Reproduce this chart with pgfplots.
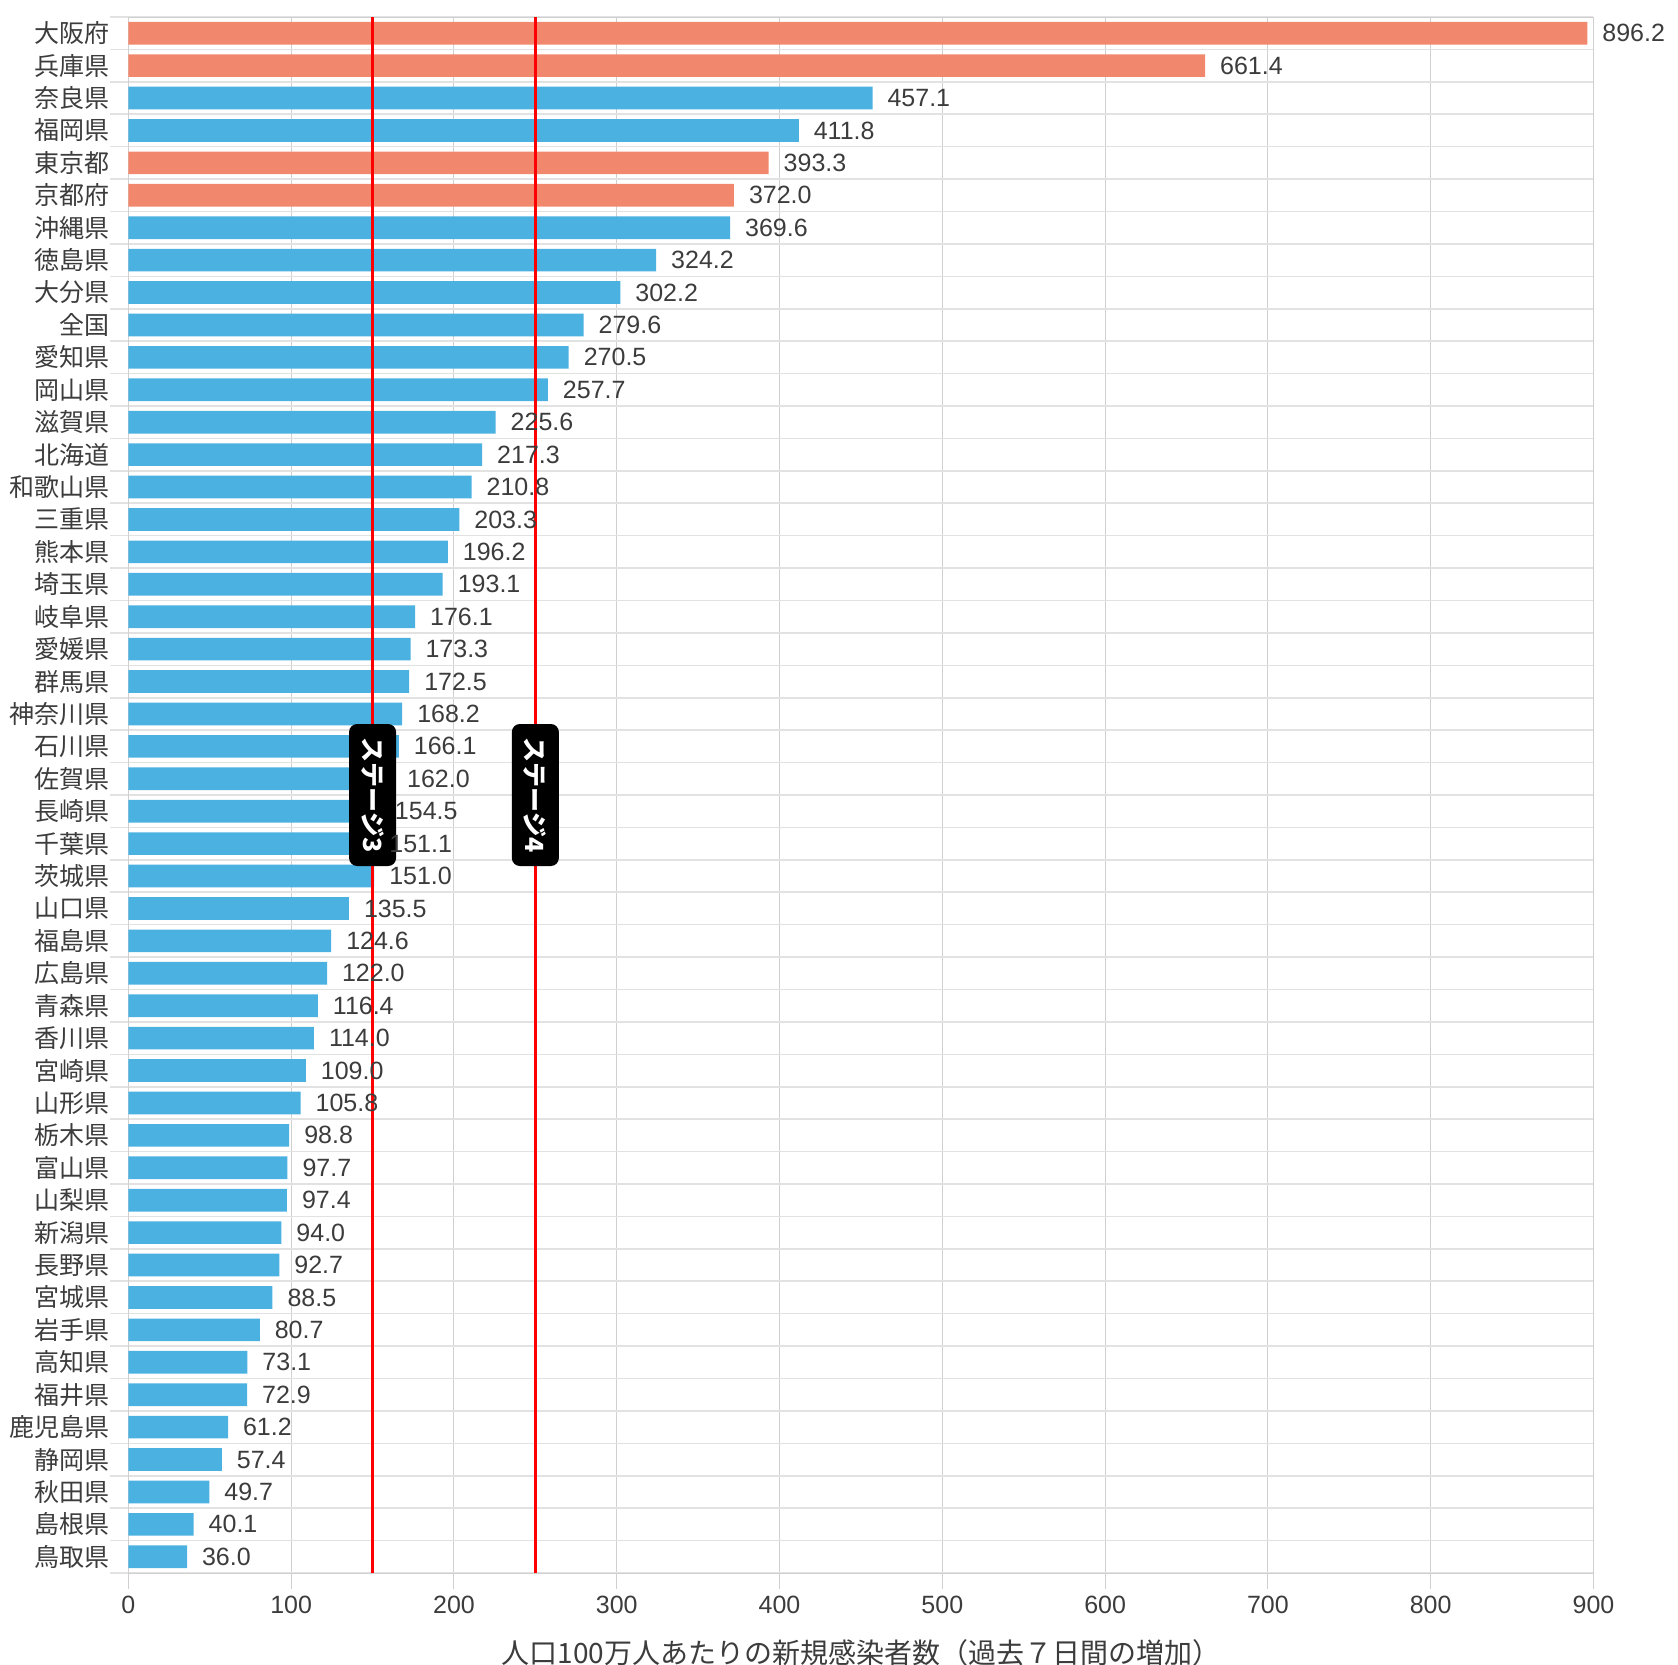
\documentclass[border=0pt]{standalone}
\usepackage{pgfplots}
\pgfplotsset{compat=1.18}
\usepackage{fontspec}
\setmainfont{Liberation Sans}
\newfontfamily\jp{Noto Sans CJK JP}
\definecolor{barorange}{RGB}{241,135,108}
\definecolor{barblue}{RGB}{74,177,224}
\definecolor{txt}{RGB}{60,60,60}
\definecolor{gridv}{RGB}{208,208,208}
\definecolor{gridh}{RGB}{226,226,226}
\begin{document}
\begin{tikzpicture}
\useasboundingbox (-64.2pt,-46pt) rectangle (774.8pt,786.5pt);
\begin{axis}[
  at={(0,0)}, anchor=south west,
  scale only axis, width=732.55pt, height=778pt,
  xmin=0, xmax=900, ymin=0.5, ymax=48.5, y dir=reverse,
  xbar, bar width=0.7, bar shift=0pt,
  xtick={0,100,...,900},
  ytick={1,...,48},
  yticklabels={大阪府,兵庫県,奈良県,福岡県,東京都,京都府,沖縄県,徳島県,大分県,全国,愛知県,岡山県,滋賀県,北海道,和歌山県,三重県,熊本県,埼玉県,岐阜県,愛媛県,群馬県,神奈川県,石川県,佐賀県,長崎県,千葉県,茨城県,山口県,福島県,広島県,青森県,香川県,宮崎県,山形県,栃木県,富山県,山梨県,新潟県,長野県,宮城県,岩手県,高知県,福井県,鹿児島県,静岡県,秋田県,島根県,鳥取県},
  minor ytick={0.5,1.5,...,48.5},
  xmajorgrids, yminorgrids,
  major grid style={draw=gridv, line width=0.5pt},
  minor grid style={draw=gridh, line width=0.8pt},
  tick align=outside, tick pos=left,
  major tick length=8pt, minor tick length=9pt,
  major x tick style={draw=gridv, line width=0.5pt},
  major y tick style={draw=none},
  minor y tick style={draw=gridh, line width=0.8pt},
  axis line style={draw=gridv, line width=0.5pt},
  /pgf/number format/assume math mode=true,
  xticklabel style={font=\fontsize{12.5}{15}\selectfont, text=txt},
  yticklabel style={font=\jp\fontsize{12.5}{15}\selectfont, text=txt, xshift=2pt},
  xlabel={人口100万人あたりの新規感染者数（過去７日間の増加）},
  xlabel style={font=\jp\fontsize{14}{16}\selectfont, text=txt, at={(axis description cs:0.5,0)}, anchor=center, yshift=-40pt},
  clip=false,
]
\addplot[xbar, fill=barorange, draw=none,
  nodes near coords={\pgfmathprintnumber[fixed,fixed zerofill,precision=1]{\pgfplotspointmeta}},
  point meta=x,
  every node near coord/.append style={anchor=west, xshift=4pt, font=\fontsize{12.5}{15}\selectfont, text=txt}]
  coordinates {(896.2,1) (661.4,2) (393.3,5) (372.0,6)};
\addplot[xbar, fill=barblue, draw=none,
  nodes near coords={\pgfmathprintnumber[fixed,fixed zerofill,precision=1]{\pgfplotspointmeta}},
  point meta=x,
  every node near coord/.append style={anchor=west, xshift=4pt, font=\fontsize{12.5}{15}\selectfont, text=txt}]
  coordinates {
(457.1,3) (411.8,4) (369.6,7) (324.2,8) (302.2,9) (279.6,10) (270.5,11) (257.7,12)
(225.6,13) (217.3,14) (210.8,15) (203.3,16) (196.2,17) (193.1,18) (176.1,19) (173.3,20)
(172.5,21) (168.2,22) (166.1,23) (162.0,24) (154.5,25) (151.1,26) (151.0,27) (135.5,28)
(124.6,29) (122.0,30) (116.4,31) (114.0,32) (109.0,33) (105.8,34) (98.8,35) (97.7,36)
(97.4,37) (94.0,38) (92.7,39) (88.5,40) (80.7,41) (73.1,42) (72.9,43) (61.2,44)
(57.4,45) (49.7,46) (40.1,47) (36.0,48)};
\addplot[sharp plot, no marks, draw={rgb,255:red,255;green,0;blue,0}, line width=1.6pt] coordinates {(150,0.5) (150,48.5)};
\addplot[sharp plot, no marks, draw={rgb,255:red,255;green,0;blue,0}, line width=1.6pt] coordinates {(250,0.5) (250,48.5)};
\node[fill=black, rounded corners=4pt, text=white, font=\jp\bfseries\fontsize{12.5}{15}\selectfont, rotate=-90, minimum width=71pt, minimum height=23.5pt, inner sep=0pt] at (axis cs:150,24.5) {ステージ3};
\node[fill=black, rounded corners=4pt, text=white, font=\jp\bfseries\fontsize{12.5}{15}\selectfont, rotate=-90, minimum width=71pt, minimum height=23.5pt, inner sep=0pt] at (axis cs:250,24.5) {ステージ4};
\end{axis}
\end{tikzpicture}
\end{document}
